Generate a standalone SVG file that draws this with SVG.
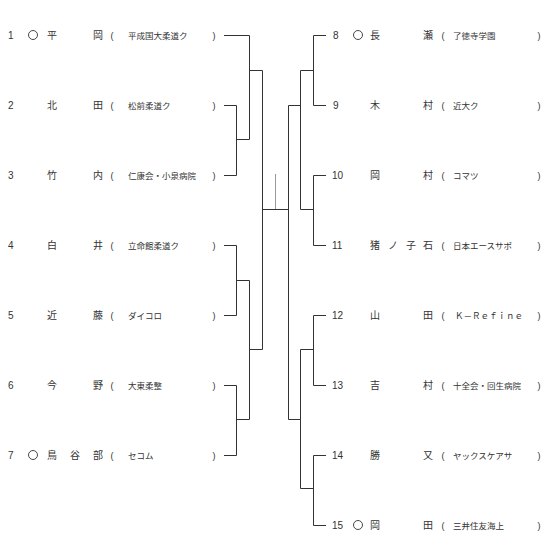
<svg xmlns="http://www.w3.org/2000/svg" width="550" height="559" viewBox="0 0 550 559">
<style>
.num{font-family:"Liberation Sans",Arial,sans-serif;font-size:10px;fill:#333}
.nm{font-family:"Noto Sans CJK JP",sans-serif;font-size:10px;fill:#333}
.tm{font-family:"Noto Sans CJK JP",sans-serif;font-size:8.5px;fill:#333}
.pr{font-family:"Liberation Sans",Arial,sans-serif;font-size:9px;fill:#333;text-anchor:middle}
.ci{fill:none;stroke:#333;stroke-width:0.9}
.ln{fill:none;stroke:#333;stroke-width:1}
.gl{fill:none;stroke:#999;stroke-width:1}
</style>
<rect width="550" height="559" fill="#fff"/>
<g id="connectors">
<path class="ln" d="M224,35.5 H249.5 V139.5 H236.5"/>
<path class="ln" d="M224,105.5 H236.5 V175.5 H224"/>
<path class="ln" d="M249.5,70.5 H262.5 V349.5 H249.5"/>
<path class="ln" d="M224,245.5 H236.5 V315.5 H224"/>
<path class="ln" d="M236.5,280.5 H249.5 V419.5 H236.5"/>
<path class="ln" d="M224,385.5 H236.5 V455.5 H224"/>
<path class="ln" d="M262.5,209.5 H288.5"/>
<path class="gl" d="M275.5,174 V209"/>
<path class="ln" d="M326,35.5 H313.5 V105.5 H326"/>
<path class="ln" d="M313.5,70.5 H300.5 V209.5 H313.5"/>
<path class="ln" d="M326,175.5 H313.5 V245.5 H326"/>
<path class="ln" d="M300.5,105.5 H288.5 V419.5 H300.5"/>
<path class="ln" d="M326,315.5 H313.5 V385.5 H326"/>
<path class="ln" d="M313.5,349.5 H300.5 V488.5 H313.5"/>
<path class="ln" d="M326,455.5 H313.5 V525.5 H326"/>
</g>
<g id="p1"><text class="num" x="8" y="39">1</text><circle class="ci" cx="33" cy="35" r="4.5"/><text class="nm" x="47" y="39">平</text><text class="nm" x="93" y="39">岡</text><text class="pr" x="112" y="39">(</text><text class="tm" x="128" y="38.5">平成国大柔道ク</text><text class="pr" x="214" y="39">)</text></g>
<g id="p2"><text class="num" x="8" y="109">2</text><text class="nm" x="47" y="109">北</text><text class="nm" x="93" y="109">田</text><text class="pr" x="112" y="109">(</text><text class="tm" x="128" y="108.5">松前柔道ク</text><text class="pr" x="214" y="109">)</text></g>
<g id="p3"><text class="num" x="8" y="179">3</text><text class="nm" x="47" y="179">竹</text><text class="nm" x="93" y="179">内</text><text class="pr" x="112" y="179">(</text><text class="tm" x="128" y="178.5">仁康会・小泉病院</text><text class="pr" x="214" y="179">)</text></g>
<g id="p4"><text class="num" x="8" y="249">4</text><text class="nm" x="47" y="249">白</text><text class="nm" x="93" y="249">井</text><text class="pr" x="112" y="249">(</text><text class="tm" x="128" y="248.5">立命館柔道ク</text><text class="pr" x="214" y="249">)</text></g>
<g id="p5"><text class="num" x="8" y="319">5</text><text class="nm" x="47" y="319">近</text><text class="nm" x="93" y="319">藤</text><text class="pr" x="112" y="319">(</text><text class="tm" x="128" y="318.5">ダイコロ</text><text class="pr" x="214" y="319">)</text></g>
<g id="p6"><text class="num" x="8" y="389">6</text><text class="nm" x="47" y="389">今</text><text class="nm" x="93" y="389">野</text><text class="pr" x="112" y="389">(</text><text class="tm" x="128" y="388.5">大東柔整</text><text class="pr" x="214" y="389">)</text></g>
<g id="p7"><text class="num" x="8" y="459">7</text><circle class="ci" cx="33" cy="455" r="4.5"/><text class="nm" x="47" y="459">鳥</text><text class="nm" x="70" y="459">谷</text><text class="nm" x="93" y="459">部</text><text class="pr" x="112" y="459">(</text><text class="tm" x="128" y="458.5">セコム</text><text class="pr" x="214" y="459">)</text></g>
<g id="p8"><text class="num" x="333" y="39">8</text><circle class="ci" cx="358" cy="35" r="4.5"/><text class="nm" x="370" y="39">長</text><text class="nm" x="423" y="39">瀬</text><text class="pr" x="443" y="39">(</text><text class="tm" x="453" y="38.5">了徳寺学園</text><text class="pr" x="539" y="39">)</text></g>
<g id="p9"><text class="num" x="333" y="109">9</text><text class="nm" x="370" y="109">木</text><text class="nm" x="423" y="109">村</text><text class="pr" x="443" y="109">(</text><text class="tm" x="453" y="108.5">近大ク</text><text class="pr" x="539" y="109">)</text></g>
<g id="p10"><text class="num" x="332" y="179">10</text><text class="nm" x="370" y="179">岡</text><text class="nm" x="423" y="179">村</text><text class="pr" x="443" y="179">(</text><text class="tm" x="453" y="178.5">コマツ</text><text class="pr" x="539" y="179">)</text></g>
<g id="p11"><text class="num" x="332" y="249">11</text><text class="nm" x="370" y="249">猪</text><text class="nm" x="388" y="249">ノ</text><text class="nm" x="406" y="249">子</text><text class="nm" x="423" y="249">石</text><text class="pr" x="443" y="249">(</text><text class="tm" x="453" y="248.5">日本エースサポ</text><text class="pr" x="539" y="249">)</text></g>
<g id="p12"><text class="num" x="332" y="319">12</text><text class="nm" x="370" y="319">山</text><text class="nm" x="423" y="319">田</text><text class="pr" x="443" y="319">(</text><text class="tm" x="455" y="318.5">Ｋ－Ｒｅｆｉｎｅ</text><text class="pr" x="539" y="319">)</text></g>
<g id="p13"><text class="num" x="332" y="389">13</text><text class="nm" x="370" y="389">吉</text><text class="nm" x="423" y="389">村</text><text class="pr" x="443" y="389">(</text><text class="tm" x="453" y="388.5">十全会・回生病院</text><text class="pr" x="539" y="389">)</text></g>
<g id="p14"><text class="num" x="332" y="459">14</text><text class="nm" x="370" y="459">勝</text><text class="nm" x="423" y="459">又</text><text class="pr" x="443" y="459">(</text><text class="tm" x="453" y="458.5">ヤックスケアサ</text><text class="pr" x="539" y="459">)</text></g>
<g id="p15"><text class="num" x="332" y="529">15</text><circle class="ci" cx="358" cy="525" r="4.5"/><text class="nm" x="370" y="529">岡</text><text class="nm" x="423" y="529">田</text><text class="pr" x="443" y="529">(</text><text class="tm" x="453" y="528.5">三井住友海上</text><text class="pr" x="539" y="529">)</text></g>
</svg>
